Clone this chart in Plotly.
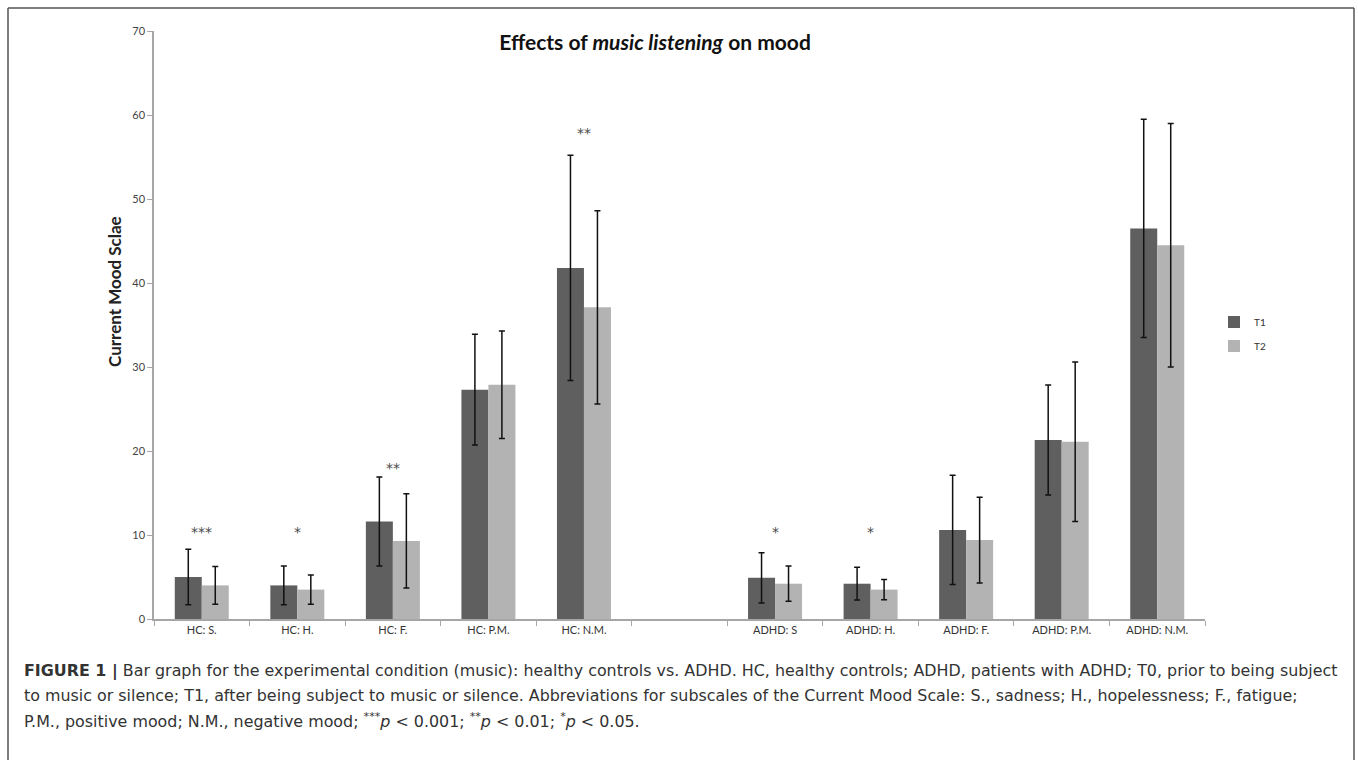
import plotly.graph_objects as go

# ---------------- data ----------------
categories = ["HC: S.", "HC: H.", "HC: F.", "HC: P.M.", "HC: N.M.",
              "ADHD: S", "ADHD: H.", "ADHD: F.", "ADHD: P.M.", "ADHD: N.M."]
axis_order = ["HC: S.", "HC: H.", "HC: F.", "HC: P.M.", "HC: N.M.", " ",
              "ADHD: S", "ADHD: H.", "ADHD: F.", "ADHD: P.M.", "ADHD: N.M."]
t1_values = [5.0, 4.0, 11.6, 27.3, 41.8, 4.9, 4.2, 10.6, 21.3, 46.5]
t1_errors = [3.3, 2.3, 5.3, 6.6, 13.4, 3.0, 1.95, 6.5, 6.55, 13.0]
t2_values = [4.0, 3.5, 9.3, 27.9, 37.1, 4.2, 3.5, 9.4, 21.1, 44.5]
t2_errors = [2.25, 1.75, 5.6, 6.4, 11.5, 2.1, 1.2, 5.1, 9.5, 14.5]
star_cats = ["HC: S.", "HC: H.", "HC: F.", "HC: N.M.", "ADHD: S", "ADHD: H."]
star_text = ["***", "*", "**", "**", "*", "*"]
star_y = [10.4, 10.4, 18.0, 57.8, 10.4, 10.4]
y_ticks = [0, 10, 20, 30, 40, 50, 60, 70]

caption_lines = [
    "<b>FIGURE 1 |</b> Bar graph for the experimental condition (music): healthy controls vs. ADHD. HC, healthy controls; ADHD, patients with ADHD; T0, prior to being subject",
    "to music or silence; T1, after being subject to music or silence. Abbreviations for subscales of the Current Mood Scale: S., sadness; H., hopelessness; F., fatigue;",
    "P.M., positive mood; N.M., negative mood; <sup>***</sup><i>p</i> &lt; 0.001; <sup>**</sup><i>p</i> &lt; 0.01; <sup>*</sup><i>p</i> &lt; 0.05.",
]

W, H = 1358, 760
L, R, T, B = 154, 153, 31, 141
PW, PH = W - L - R, H - T - B


def px(x):
    return (x - L) / PW


def py(y):
    return (H - B - y) / PH


fig = go.Figure()
fig.add_trace(go.Bar(
    name="T1", x=categories, y=t1_values, legendgroup="t1",
    marker=dict(color="#5f5f5f", line=dict(width=0)),
    error_y=dict(type="data", array=t1_errors, visible=True,
                 color="#111111", thickness=1.5, width=3),
))
fig.add_trace(go.Bar(
    name="T2", x=categories, y=t2_values, legendgroup="t2",
    marker=dict(color="#b3b3b3", line=dict(width=0)),
    error_y=dict(type="data", array=t2_errors, visible=True,
                 color="#111111", thickness=1.5, width=3),
))

annotations = []
for c, s, yv in zip(star_cats, star_text, star_y):
    annotations.append(dict(x=c, y=yv, xref="x", yref="y", text=s, showarrow=False,
                            font=dict(family="DejaVu Sans", size=14, color="#4a4a4a")))

# y axis title
annotations.append(dict(x=px(114), y=py(292), xref="paper", yref="paper",
                        xanchor="center", yanchor="middle",
                        text="<b>Current Mood Sclae</b>", textangle=-90, showarrow=False,
                        font=dict(family="Lato", size=17, color="#222222")))
# caption
for i, line in enumerate(caption_lines):
    annotations.append(dict(x=px(22), y=py(671 + 24.5 * i), xref="paper", yref="paper",
                            xanchor="left", yanchor="middle", text=line, showarrow=False,
                            align="left",
                            font=dict(family="DejaVu Sans", size=15.9, color="#333333")))

shapes = [
    dict(type="line", xref="paper", yref="paper", x0=px(8), x1=px(1354), y0=py(8), y1=py(8),
         line=dict(color="#555555", width=1.5)),
    dict(type="line", xref="paper", yref="paper", x0=px(8), x1=px(8), y0=py(8), y1=py(770),
         line=dict(color="#555555", width=1.5)),
    dict(type="line", xref="paper", yref="paper", x0=px(1354), x1=px(1354), y0=py(8), y1=py(770),
         line=dict(color="#555555", width=1.5)),
]

fig.update_layout(
    width=W, height=H,
    margin=dict(l=L, r=R, t=T, b=B, autoexpand=False),
    paper_bgcolor="white", plot_bgcolor="white",
    barmode="group", bargap=0.435, bargroupgap=0,
    title=dict(text="<b>Effects of <i>music listening</i> on mood</b>",
               x=px(655), xref="paper", xanchor="center",
               y=1 - 43 / H, yref="container", yanchor="middle",
               font=dict(family="Lato", size=21, color="#111111")),
    xaxis=dict(type="category", categoryorder="array", categoryarray=axis_order,
               range=[-0.5, len(axis_order) - 0.5], automargin=False,
               showline=True, linecolor="#a6a6a6", linewidth=1.5,
               ticks="outside", tickson="boundaries", ticklen=5, tickcolor="#a6a6a6",
               tickfont=dict(family="Lato", size=11, color="#333333"),
               showgrid=False, zeroline=False),
    yaxis=dict(range=[0, 70], tickvals=y_ticks, automargin=False,
               showline=True, linecolor="#a6a6a6", linewidth=1.5,
               ticks="outside", ticklen=5, tickcolor="#a6a6a6",
               tickfont=dict(family="Lato", size=11, color="#444444"),
               showgrid=False, zeroline=False),
    legend=dict(x=px(1214), y=py(334), xanchor="left", yanchor="middle",
                traceorder="grouped", tracegroupgap=5,
                font=dict(family="Lato", size=10, color="#333333"),
                bgcolor="rgba(0,0,0,0)"),
    annotations=annotations,
    shapes=shapes,
)

fig.write_html("out.html", config={"displayModeBar": False},
               post_script="document.body.style.margin='0';document.body.style.overflow='hidden';")
